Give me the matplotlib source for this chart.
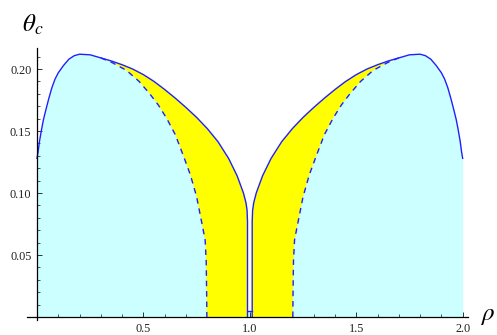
import matplotlib
matplotlib.use("Agg")
import matplotlib.pyplot as plt
from matplotlib.ticker import MultipleLocator, FixedLocator
import numpy as np

# ---- data ----
# solid boundary (left lobe)
rho_solid_left = [0.0, 0.005, 0.012, 0.02, 0.03, 0.04, 0.055, 0.07, 0.085, 0.10, 0.125,
                  0.15, 0.175, 0.20, 0.25, 0.30, 0.35, 0.40, 0.45, 0.50, 0.55, 0.60,
                  0.65, 0.70, 0.75, 0.80, 0.85, 0.90, 0.94, 0.97, 0.982, 0.987,
                  0.989, 0.989, 0.989]
theta_solid_left = [0.128, 0.133, 0.142, 0.150, 0.159, 0.166, 0.176, 0.185, 0.192, 0.197,
                    0.203, 0.208, 0.2108, 0.212, 0.2115, 0.209, 0.2065, 0.2035, 0.200,
                    0.1955, 0.190, 0.1835, 0.1765, 0.169, 0.161, 0.152, 0.1415, 0.128,
                    0.114, 0.100, 0.092, 0.086, 0.077, 0.005, 0.0]
# solid boundary (right lobe)
rho_solid_right = [1.011, 1.011, 1.011, 1.013, 1.018, 1.03, 1.06, 1.10, 1.15, 1.20, 1.25,
                   1.30, 1.35, 1.40, 1.45, 1.50, 1.55, 1.60, 1.65, 1.70, 1.75, 1.80,
                   1.825, 1.85, 1.875, 1.90, 1.915, 1.93, 1.945, 1.96, 1.97, 1.98,
                   1.988, 1.995, 2.0]
theta_solid_right = [0.0, 0.005, 0.077, 0.086, 0.092, 0.100, 0.114, 0.128, 0.1415, 0.152,
                     0.161, 0.169, 0.1765, 0.1835, 0.190, 0.1955, 0.200, 0.2035, 0.2065,
                     0.209, 0.2115, 0.212, 0.2108, 0.208, 0.203, 0.197, 0.192, 0.185,
                     0.176, 0.166, 0.159, 0.150, 0.142, 0.133, 0.128]
# dashed boundary
rho_dash_left = [0.30, 0.35, 0.42, 0.48, 0.53, 0.57, 0.61, 0.65, 0.69, 0.72, 0.75,
                 0.78, 0.79, 0.795, 0.797, 0.798]
theta_dash_left = [0.209, 0.2055, 0.199, 0.190, 0.180, 0.171, 0.160, 0.147, 0.129,
                   0.115, 0.097, 0.071, 0.062, 0.045, 0.020, 0.0]
rho_dash_right = [1.202, 1.203, 1.205, 1.21, 1.22, 1.25, 1.28, 1.31, 1.35, 1.39, 1.43,
                  1.47, 1.52, 1.58, 1.65, 1.70]
theta_dash_right = [0.0, 0.020, 0.045, 0.062, 0.071, 0.097, 0.115, 0.129, 0.147, 0.160,
                    0.171, 0.180, 0.190, 0.199, 0.2055, 0.209]

x_major = [0.5, 1.0, 1.5, 2.0]
x_major_labels = ["0.5", "1.0", "1.5", "2.0"]
y_major = [0.05, 0.10, 0.15, 0.20]
y_major_labels = ["0.05", "0.10", "0.15", "0.20"]

CYAN = "#ccffff"
YELLOW = "#ffff00"
BLUE = "#2020ff"

plt.rcParams['mathtext.fontset'] = 'stix'
plt.rcParams['font.family'] = ['Liberation Serif', 'DejaVu Serif']

fig = plt.figure(figsize=(4.97, 3.35), dpi=100)
ax = fig.add_axes([27/497, 15/335, 441/497, 272/335])
ax.set_xlim(-0.047, 2.025)
ax.set_ylim(-0.0024, 0.217)

rsl = np.array(rho_solid_left); tsl = np.array(theta_solid_left)
rsr = np.array(rho_solid_right); tsr = np.array(theta_solid_right)
rdl = np.array(rho_dash_left); tdl = np.array(theta_dash_left)
rdr = np.array(rho_dash_right); tdr = np.array(theta_dash_right)

# cyan region under the solid boundary
ax.fill_between(rsl, 0, tsl, color=CYAN, lw=0, zorder=1)
ax.fill_between(rsr, 0, tsr, color=CYAN, lw=0, zorder=1)
ax.fill_between([0.989, 1.011], 0, 0.005, color=CYAN, lw=0, zorder=1)

# yellow region between dashed and solid
m = rsl >= 0.30
yl_x = np.concatenate([rdl, rsl[m][::-1]])
yl_y = np.concatenate([tdl, tsl[m][::-1]])
ax.fill(yl_x, yl_y, color=YELLOW, lw=0, zorder=2)
m2 = rsr <= 1.70
yr_x = np.concatenate([rsr[m2], rdr[::-1]])
yr_y = np.concatenate([tsr[m2], tdr[::-1]])
ax.fill(yr_x, yr_y, color=YELLOW, lw=0, zorder=2)

# boundary lines
ax.plot(rsl, tsl, color=BLUE, lw=1.0, zorder=3)
ax.plot(rsr, tsr, color=BLUE, lw=1.0, zorder=3)
ax.plot([0.989, 1.011], [0.005, 0.005], color=BLUE, lw=1.0, zorder=3)
ax.plot(rdl, tdl, color=BLUE, lw=1.0, ls=(0, (4, 3.5)), zorder=3)
ax.plot(rdr, tdr, color=BLUE, lw=1.0, ls=(0, (4, 3.5)), zorder=3)

# axes in Mathematica style
for s in ['top', 'right']:
    ax.spines[s].set_visible(False)
ax.spines['left'].set_position(('data', 0))
ax.spines['bottom'].set_position(('data', 0))
for s in ['left', 'bottom']:
    ax.spines[s].set_linewidth(0.9)
    ax.spines[s].set_zorder(5)

ax.xaxis.set_major_locator(FixedLocator(x_major))
ax.set_xticklabels(x_major_labels)
ax.xaxis.set_minor_locator(MultipleLocator(0.1))
ax.yaxis.set_major_locator(FixedLocator(y_major))
ax.set_yticklabels(y_major_labels)
ax.yaxis.set_minor_locator(MultipleLocator(0.01))
ax.tick_params(which='major', direction='in', length=3.8, width=0.7, pad=4,
               labelsize=8.8, color='#333333', labelcolor='#222222')
ax.tick_params(which='minor', direction='in', length=2.2, width=0.6, color='#333333')

fig.text(33/497, 1 - 25/335, r'$\theta_c$', fontsize=18, ha='center', va='center')
fig.text(487/497, 1 - 316/335, r'$\rho$', fontsize=18, ha='center', va='center')

fig.savefig("out.png", dpi=100)
